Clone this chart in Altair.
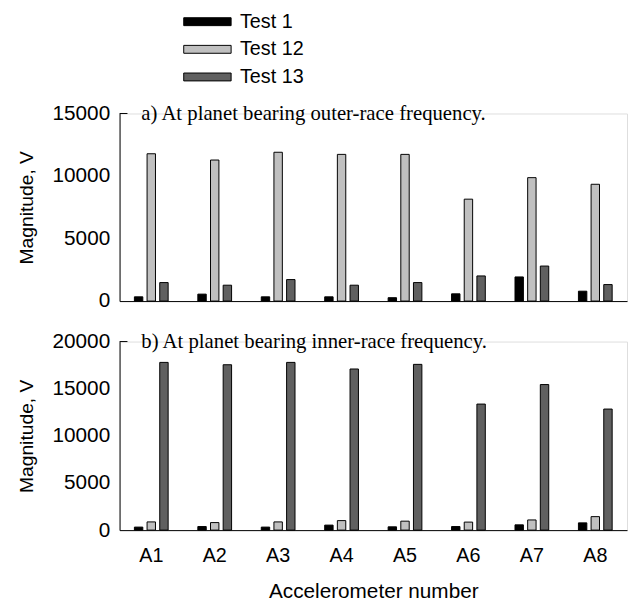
import altair as alt
import pandas as pd

accels = ["A1", "A2", "A3", "A4", "A5", "A6", "A7", "A8"]
tests = ["Test 1", "Test 12", "Test 13"]
colors = ["#000000", "#c0c0c0", "#606060"]

outer_t1 = [340, 555, 340, 340, 270, 580, 1930, 790]
outer_t12 = [11780, 11280, 11900, 11730, 11730, 8150, 9870, 9340]
outer_t13 = [1480, 1270, 1720, 1270, 1480, 2010, 2800, 1320]

inner_t1 = [320, 380, 320, 530, 350, 380, 560, 770]
inner_t12 = [870, 800, 870, 1010, 950, 850, 1080, 1430]
inner_t13 = [17790, 17540, 17790, 17090, 17580, 13370, 15440, 12840]

label_a = "a) At planet bearing outer-race frequency."
label_b = "b) At planet bearing inner-race frequency."


def long_table(t1, t12, t13):
    rows = []
    for i, a in enumerate(accels):
        for name, vals in zip(tests, [t1, t12, t13]):
            rows.append({"accel": a, "test": name, "value": vals[i]})
    return pd.DataFrame(rows)


legend = alt.Legend(
    title=None, orient="none", legendX=79, legendY=-103,
    symbolType="M-6,-1H6V1H-6Z", symbolSize=64,
    symbolStrokeColor="black", symbolStrokeWidth=1,
    labelFontSize=20, labelFont="Liberation Sans", labelColor="black",
    labelOffset=23, rowPadding=8, padding=0,
)


def panel(df, ymax, yvals, label, bottom, h):
    x_axis = alt.Axis(
        labels=bottom, title="Accelerometer number" if bottom else None,
        ticks=False, domain=True, domainColor="black", labelAngle=0,
        labelFontSize=20, labelPadding=16, titleFontSize=21, titlePadding=15,
        labelColor="black", titleColor="black", titleFontWeight="normal",
        labelFont="Liberation Sans", titleFont="Liberation Sans",
    )
    y_axis = alt.Axis(
        values=yvals, format="d", ticks=False, grid=False, domain=True,
        domainColor="black",
        labelFontSize=21, labelPadding=10, titleFontSize=19.5, titlePadding=16,
        labelColor="black", titleColor="black", titleFontWeight="normal",
        labelFont="Liberation Sans", titleFont="Liberation Sans",
    )
    bars = alt.Chart(df).mark_bar(stroke="black", strokeWidth=1).encode(
        x=alt.X("accel:N", sort=accels,
                scale=alt.Scale(paddingInner=0.468, paddingOuter=0.234), axis=x_axis),
        xOffset=alt.XOffset("test:N", sort=tests,
                            scale=alt.Scale(paddingInner=0.336, paddingOuter=0)),
        y=alt.Y("value:Q", scale=alt.Scale(domain=[0, ymax], nice=False),
                axis=y_axis, title="Magnitude, V"),
        color=alt.Color("test:N", sort=tests,
                        scale=alt.Scale(domain=tests, range=colors), legend=legend),
    )
    tick = alt.Chart(pd.DataFrame({"k": [0]})).mark_rule(color="black", strokeWidth=1).encode(
        y=alt.datum(ymax), x=alt.value(0), x2=alt.value(8)
    )
    text = alt.Chart(pd.DataFrame({"t": [label]})).mark_text(
        font="Liberation Serif", fontSize=21, align="left", baseline="alphabetic",
        color="black", dy=7,
    ).encode(text="t:N", x=alt.value(22), y=alt.datum(ymax))
    return alt.layer(bars, tick, text).properties(width=514, height=h)


top = panel(long_table(outer_t1, outer_t12, outer_t13), 15000,
            [0, 5000, 10000, 15000], label_a, False, 190)
bot = panel(long_table(inner_t1, inner_t12, inner_t13), 20000,
            [0, 5000, 10000, 15000, 20000], label_b, True, 191)

chart = alt.vconcat(top, bot, spacing=41, bounds="flush").properties(
    padding={"left": 8, "top": 0, "right": 0, "bottom": 0}
).configure_view(stroke=None).configure(background="white")

chart.save("out.html", embed_options={"renderer": "svg", "actions": False})
